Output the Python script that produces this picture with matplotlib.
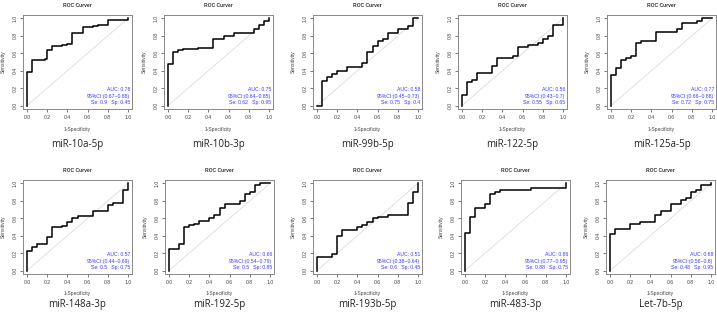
import matplotlib
matplotlib.use("Agg")
import matplotlib.pyplot as plt

# names of the markers
names = ["miR-10a-5p", "miR-10b-3p", "miR-99b-5p", "miR-122-5p", "miR-125a-5p",
         "miR-148a-3p", "miR-192-5p", "miR-193b-5p", "miR-483-3p", "Let-7b-5p"]

# ROC step points (1-specificity, sensitivity)
fpr_list = [
    [0, 0, 0.05, 0.18, 0.2, 0.25, 0.35, 0.4, 0.45, 0.55, 0.65, 0.7, 0.8, 1.0],
    [0, 0, 0.05, 0.1, 0.15, 0.3, 0.45, 0.55, 0.65, 0.85, 0.9, 0.95, 1.0],
    [0, 0.05, 0.1, 0.15, 0.2, 0.3, 0.45, 0.5, 0.55, 0.6, 0.65, 0.7, 0.8, 0.9, 0.95, 1.0],
    [0, 0, 0.05, 0.1, 0.15, 0.3, 0.35, 0.5, 0.55, 0.65, 0.75, 0.8, 0.85, 0.9, 0.95, 1.0],
    [0, 0, 0.05, 0.1, 0.15, 0.2, 0.25, 0.3, 0.45, 0.55, 0.65, 0.7, 0.85, 0.9, 1.0],
    [0, 0, 0.05, 0.1, 0.2, 0.25, 0.35, 0.4, 0.45, 0.5, 0.65, 0.8, 0.85, 0.95, 1.0],
    [0, 0, 0.1, 0.15, 0.2, 0.25, 0.3, 0.4, 0.45, 0.5, 0.55, 0.7, 0.75, 0.8, 0.85, 0.9, 1.0],
    [0, 0, 0.05, 0.15, 0.2, 0.25, 0.4, 0.45, 0.5, 0.55, 0.6, 0.7, 0.9, 0.95, 1.0],
    [0, 0, 0.05, 0.1, 0.2, 0.25, 0.3, 0.35, 0.65, 1.0],
    [0, 0, 0.05, 0.2, 0.3, 0.45, 0.5, 0.6, 0.7, 0.75, 0.8, 0.85, 0.9, 1.0],
]
tpr_list = [
    [0, 0.38, 0.52, 0.53, 0.64, 0.68, 0.69, 0.71, 0.83, 0.9, 0.91, 0.93, 0.98, 1.0],
    [0, 0.48, 0.62, 0.64, 0.65, 0.66, 0.77, 0.8, 0.83, 0.88, 0.92, 0.97, 1.0],
    [0, 0.28, 0.33, 0.36, 0.40, 0.44, 0.49, 0.61, 0.68, 0.74, 0.76, 0.83, 0.88, 0.91, 1.0, 1.0],
    [0, 0.12, 0.27, 0.29, 0.37, 0.45, 0.55, 0.57, 0.67, 0.70, 0.72, 0.77, 0.80, 0.92, 0.93, 1.0],
    [0, 0.35, 0.43, 0.52, 0.55, 0.57, 0.72, 0.74, 0.84, 0.85, 0.88, 0.95, 0.97, 1.0, 1.0],
    [0, 0.22, 0.27, 0.30, 0.38, 0.50, 0.51, 0.56, 0.60, 0.63, 0.68, 0.75, 0.78, 0.92, 1.0],
    [0, 0.25, 0.30, 0.50, 0.52, 0.54, 0.57, 0.60, 0.64, 0.72, 0.76, 0.80, 0.88, 0.90, 0.98, 1.0, 1.0],
    [0, 0.15, 0.16, 0.19, 0.40, 0.47, 0.50, 0.52, 0.56, 0.60, 0.62, 0.64, 0.78, 0.90, 1.0],
    [0, 0.43, 0.62, 0.72, 0.76, 0.88, 0.90, 0.92, 0.95, 1.0],
    [0, 0.42, 0.48, 0.53, 0.56, 0.64, 0.68, 0.76, 0.81, 0.83, 0.90, 0.93, 0.98, 1.0],
]

auc = ["0.78", "0.75", "0.58", "0.56", "0.77", "0.57", "0.66", "0.51", "0.86", "0.68"]
ci = ["(0.67~0.88)", "(0.64~0.85)", "(0.45~0.73)", "(0.43~0.7)", "(0.66~0.88)",
      "(0.44~0.69)", "(0.54~0.79)", "(0.38~0.64)", "(0.77~0.95)", "(0.56~0.8)"]
se = ["0.9", "0.62", "0.75", "0.55", "0.72", "0.5", "0.5", "0.6", "0.88", "0.48"]
sp = ["0.45", "0.95", "0.4", "0.65", "0.75", "0.75", "0.85", "0.45", "0.75", "0.95"]

plt.rcParams["font.family"] = ["Liberation Sans", "DejaVu Sans"]

W, H = 717, 313
fig = plt.figure(figsize=(W / 100, H / 100), dpi=100)

# left edge of each axes box in pixels, per column
box_left = [[23, 164, 313, 458, 607], [23, 165, 313, 461, 606]]
box_w = 109
row_top = [15, 180]
box_h = 94
cap_y = [144, 305]

for i, name in enumerate(names):
    r, c = divmod(i, 5)
    x0 = box_left[r][c]
    y0 = row_top[r]
    ax = fig.add_axes([x0 / W, 1 - (y0 + box_h) / H, box_w / W, box_h / H])
    ax.plot([0, 1], [0, 1], color="#dcdcdc", lw=0.6)
    ax.step(fpr_list[i], tpr_list[i], where="post", color="black", lw=1.1)
    ax.set_xlim(-0.04, 1.04)
    ax.set_ylim(-0.04, 1.04)
    ax.set_xticks([0, 0.2, 0.4, 0.6, 0.8, 1.0])
    ax.set_yticks([0, 0.2, 0.4, 0.6, 0.8, 1.0])
    ax.set_xticklabels(["0.0", "0.2", "0.4", "0.6", "0.8", "1.0"])
    ax.set_yticklabels(["0.0", "0.2", "0.4", "0.6", "0.8", "1.0"], rotation=90, va="center")
    ax.tick_params(labelsize=3.7, length=2, width=0.5, pad=2, colors="#444444")
    for s in ax.spines.values():
        s.set_color("#888888")
        s.set_linewidth(0.7)
    ax.set_xlabel("1-Specificity", fontsize=3.6, color="#444444", labelpad=5)
    ax.set_ylabel("Sensitivity", fontsize=3.6, color="#444444", labelpad=5)
    ax.set_title("ROC Curver", fontsize=3.6, fontweight="bold", color="#333333", pad=6)
    txt = "AUC: %s\n95%%CI:%s\nSe: %s   Sp: %s" % (auc[i], ci[i], se[i], sp[i])
    ax.text(0.985, 0.04, txt, transform=ax.transAxes, ha="right", va="bottom",
            fontsize=3.7, color="#3a3aff", multialignment="right", linespacing=1.35)
    fig.text((x0 + box_w / 2) / W, 1 - cap_y[r] / H, name, ha="center", va="center",
             fontsize=7, family="Open Sans", color="#222222")

plt.savefig("out.png", dpi=100)
